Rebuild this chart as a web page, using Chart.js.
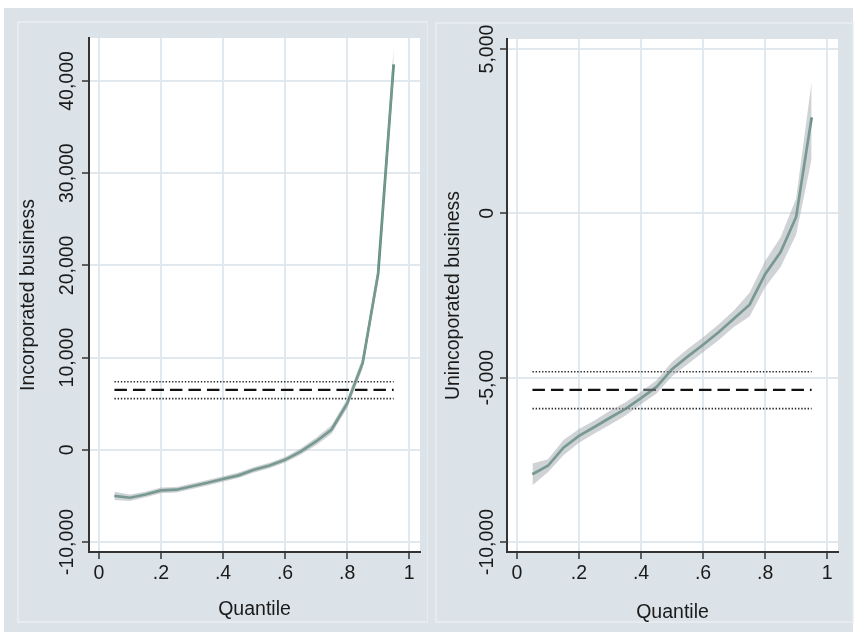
<!DOCTYPE html>
<html>
<head>
<meta charset="utf-8">
<title>Quantile effects</title>
<script src="https://cdn.jsdelivr.net/npm/chart.js@4.4.1/dist/chart.umd.min.js"></script>
<style>
  html, body { margin: 0; padding: 0; background: #fff; }
  body { width: 856px; height: 633px; position: relative; overflow: hidden; }
  .graph-bg { position: absolute; left: 4px; top: 8px; width: 849px; height: 624px; background: #dce3e8; }
  #incChart { position: absolute; left: 4px; top: 8px; }
  #unincChart { position: absolute; left: 426px; top: 8px; }
</style>
</head>
<body>
<div class="graph-bg"></div>
<canvas id="incChart" width="424" height="624"></canvas>
<canvas id="unincChart" width="430" height="624"></canvas>
<script>
// Data
const quantiles = [0.05, 0.10, 0.15, 0.20, 0.25, 0.30, 0.35, 0.40, 0.45, 0.50,
                   0.55, 0.60, 0.65, 0.70, 0.75, 0.80, 0.85, 0.90, 0.95];

const incEffect = [-5000, -5200, -4850, -4400, -4330, -3950, -3580, -3170, -2770, -2170,
                   -1700, -1090, -200, 900, 2200, 5000, 9400, 19100, 41800];
const incUpper  = [-4550, -4850, -4550, -4100, -4030, -3650, -3280, -2870, -2470, -1870,
                   -1400, -790, 150, 1300, 2650, 5500, 10000, 20000, 43500];
const incLower  = [-5450, -5550, -5150, -4700, -4630, -4250, -3880, -3470, -3070, -2470,
                   -2000, -1390, -550, 500, 1750, 4500, 8800, 18200, 40100];
const incMean = 6500;
const incMeanHi = 7380;
const incMeanLo = 5540;

const unincEffect = [-7940, -7680, -7130, -6770, -6500, -6220, -5950, -5620, -5280, -4740,
                     -4360, -4000, -3620, -3200, -2780, -1850, -1180, -110, 2920];
const unincUpper  = [-7610, -7480, -6900, -6560, -6300, -6010, -5750, -5430, -5080, -4520,
                     -4130, -3770, -3380, -2950, -2420, -1450, -730, 450, 4000];
const unincLower  = [-8270, -7880, -7360, -6980, -6700, -6430, -6150, -5810, -5480, -4960,
                     -4590, -4230, -3860, -3450, -3140, -2250, -1630, -650, 1650];
const unincMean = -5370;
const unincMeanHi = -4820;
const unincMeanLo = -5940;

const meanSpan = [0.05, 0.95];

const xTicks = [0, 0.2, 0.4, 0.6, 0.8, 1];
const xTickLabels = ['0', '.2', '.4', '.6', '.8', '1'];
const incYTicks = [-10000, 0, 10000, 20000, 30000, 40000];
const unincYTicks = [-10000, -5000, 0, 5000];

document.addEventListener('DOMContentLoaded', () => {
    Chart.defaults.font.family = "'Liberation Sans', Arial, sans-serif";
    Chart.defaults.color = '#1a1a1a';

    const lineColor = '#518a76';
    const bandColor = 'rgba(160, 167, 172, 0.5)';

    // Background frame + white plot region
    const panelPlugin = {
        id: 'panel',
        beforeDraw(chart, args, opts) {
            const { ctx, chartArea } = chart;
            const f = opts.frame;
            ctx.save();
            ctx.strokeStyle = '#e9eef1';
            ctx.lineWidth = 1.5;
            ctx.strokeRect(f[0], f[1], f[2], f[3]);
            ctx.fillStyle = '#ffffff';
            ctx.fillRect(chartArea.left, chartArea.top,
                chartArea.right - chartArea.left, chartArea.bottom - chartArea.top);
            ctx.restore();
        }
    };

    const pts = (xs, ys) => xs.map((x, i) => ({ x: x, y: ys[i] }));
    const flat = (v) => meanSpan.map(x => ({ x: x, y: v }));

    const makeChart = (id, p) => {
        new Chart(document.getElementById(id), {
            type: 'line',
            data: {
                datasets: [
                    { data: pts(quantiles, p.lower), borderWidth: 0, pointRadius: 0, fill: false },
                    { data: pts(quantiles, p.upper), borderWidth: 0, pointRadius: 0,
                      fill: '-1', backgroundColor: bandColor },
                    { data: flat(p.meanHi), borderColor: '#2a2a2a', borderWidth: 1.7,
                      borderDash: [1.4, 1.8], pointRadius: 0 },
                    { data: flat(p.meanLo), borderColor: '#2a2a2a', borderWidth: 1.7,
                      borderDash: [1.4, 1.8], pointRadius: 0 },
                    { data: flat(p.mean), borderColor: '#111111', borderWidth: 2.2,
                      borderDash: [12.5, 6], pointRadius: 0 },
                    { data: pts(quantiles, p.effect), borderColor: lineColor, borderWidth: 2.7,
                      pointRadius: 0 }
                ]
            },
            options: {
                responsive: false,
                animation: false,
                tension: 0,
                layout: { padding: { top: p.padTop, right: p.padRight, left: 0, bottom: 0 } },
                plugins: {
                    legend: { display: false },
                    tooltip: { enabled: false },
                    panel: { frame: p.frame }
                },
                scales: {
                    x: {
                        type: 'linear',
                        min: -0.032,
                        max: 1.035,
                        afterBuildTicks: (s) => { s.ticks = xTicks.map(v => ({ value: v })); },
                        afterFit: (s) => { s.height = 80; },
                        ticks: {
                            font: { size: 19.5 },
                            padding: 3,
                            maxRotation: 0,
                            callback: (v) => xTickLabels[xTicks.indexOf(v)]
                        },
                        grid: { color: '#e1e9ee', lineWidth: 2, tickLength: 7,
                                tickColor: '#333333', tickWidth: 1.5 },
                        border: { color: '#333333', width: 2 },
                        title: { display: true, text: 'Quantile', font: { size: 19.5 },
                                 padding: { top: 0, bottom: p.xTitlePad } }
                    },
                    y: {
                        min: p.yMin,
                        max: p.yMax,
                        afterBuildTicks: (s) => { s.ticks = p.yTicks.map(v => ({ value: v })); },
                        afterFit: (s) => { s.width = p.yWidth; },
                        ticks: {
                            font: { size: 19.5 },
                            minRotation: 90,
                            maxRotation: 90,
                            crossAlign: 'center',
                            padding: p.yTickPad,
                            callback: (v) => v.toLocaleString('en-US')
                        },
                        grid: { color: '#e1e9ee', lineWidth: 2, tickLength: 7,
                                tickColor: '#333333', tickWidth: 1.5 },
                        border: { color: '#333333', width: 2 },
                        title: { display: true, text: p.title, font: { size: 19.5 },
                                 padding: { top: p.yTitlePad, bottom: 0 } }
                    }
                }
            },
            plugins: [panelPlugin]
        });
    };

    // 1. Incorporated business
    makeChart('incChart', {
        effect: incEffect, upper: incUpper, lower: incLower,
        mean: incMean, meanHi: incMeanHi, meanLo: incMeanLo,
        yMin: -11085, yMax: 44660, yTicks: incYTicks,
        title: 'Incorporated business',
        padTop: 30, padRight: 8, yWidth: 85,
        yTickPad: -18.5, yTitlePad: 13, xTitlePad: 11,
        frame: [14, 14, 410, 600]
    });

    // 2. Unincorporated business
    makeChart('unincChart', {
        effect: unincEffect, upper: unincUpper, lower: unincLower,
        mean: unincMean, meanHi: unincMeanHi, meanLo: unincMeanLo,
        yMin: -10304, yMax: 5304, yTicks: unincYTicks,
        title: 'Unincoporated business',
        padTop: 31, padRight: 18, yWidth: 81,
        yTickPad: -21, yTitlePad: 16, xTitlePad: 8,
        frame: [10, 15, 417, 599]
    });
});
</script>
</body>
</html>
